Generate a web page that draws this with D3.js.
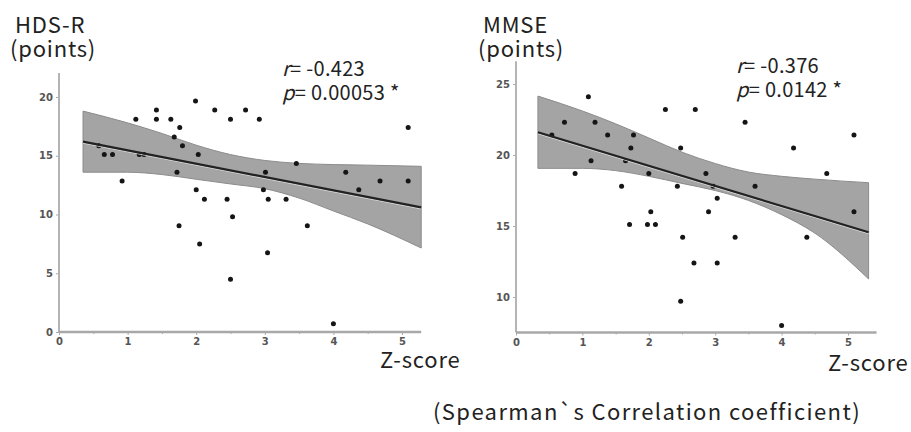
<!DOCTYPE html>
<html>
<head>
<meta charset="utf-8">
<script src="https://cdn.jsdelivr.net/npm/d3@7"></script>
<style>
  body { margin: 0; background: #fff; }
  text { font-family: "Noto Sans CJK JP", "Noto Sans", sans-serif; }
  .tick text { font-family: "DejaVu Sans", sans-serif; font-weight: bold; }
</style>
</head>
<body>
<div id="canvas"></div>
<script>
var width = 911,
	height = 432;

// HDS-R panel
var hdsX = [0.58, 0.66, 0.78, 0.92, 1.12, 1.17, 1.24, 1.42, 1.42, 1.63, 1.76, 1.68, 1.80, 1.72, 1.99, 2.03, 2.27, 2.50, 2.72, 2.92, 3.01, 3.46, 4.18, 4.37, 4.68, 5.09, 5.09, 2.00, 2.98, 2.12, 2.45, 3.05, 3.31, 1.75, 2.53, 3.62, 2.05, 3.04, 2.50, 4.00];
var hdsY = [15.85, 15.1, 15.1, 12.85, 18.1, 15.1, 15.1, 18.9, 18.1, 18.1, 17.4, 16.6, 15.85, 13.6, 19.66, 15.1, 18.9, 18.1, 18.9, 18.1, 13.6, 14.35, 13.6, 12.1, 12.85, 12.85, 17.4, 12.1, 12.1, 11.3, 11.3, 11.3, 11.3, 9.05, 9.8, 9.05, 7.5, 6.75, 4.5, 0.7];
var hdsLine = [[0.35, 16.2], [5.28, 10.6]];
var hdsBandX = [0.35, 1.0, 1.5, 2.0, 2.5, 3.0, 3.5, 4.0, 4.5, 5.28];
var hdsUpper = [18.8, 17.8, 16.9, 15.9, 15.1, 14.6, 14.35, 14.25, 14.2, 14.1];
var hdsLower = [13.6, 13.6, 13.4, 13.0, 12.6, 12.2, 11.4, 10.3, 9.2, 7.15];
var hdsYTicks = [0, 5, 10, 15, 20];

// MMSE panel
var mmseX = [1.09, 0.73, 1.19, 0.54, 1.38, 1.77, 2.25, 2.70, 3.45, 5.09, 1.73, 2.48, 4.18, 1.13, 1.65, 0.89, 2.00, 2.86, 4.68, 1.59, 2.43, 2.97, 3.60, 3.03, 2.03, 2.90, 5.09, 1.71, 1.98, 2.10, 2.51, 3.30, 4.38, 2.68, 3.03, 2.48, 4.00];
var mmseY = [24.1, 22.3, 22.3, 21.4, 21.4, 21.4, 23.2, 23.2, 22.3, 21.4, 20.5, 20.5, 20.5, 19.6, 19.6, 18.7, 18.7, 18.7, 18.7, 17.8, 17.8, 17.8, 17.8, 16.95, 16.0, 16.0, 16.0, 15.1, 15.1, 15.1, 14.2, 14.2, 14.2, 12.4, 12.4, 9.7, 8.0];
var mmseLine = [[0.33, 21.6], [5.31, 14.56]];
var mmseBandX = [0.33, 1.0, 1.5, 2.0, 2.5, 3.0, 3.5, 4.0, 4.5, 5.31];
var mmseUpper = [24.15, 23.1, 22.2, 21.2, 20.2, 19.4, 18.8, 18.5, 18.3, 18.05];
var mmseLower = [19.06, 19.06, 18.9, 18.5, 18.0, 17.5, 16.8, 15.8, 14.5, 11.27];
var mmseYTicks = [10, 15, 20, 25];

var xTicks = [0, 1, 2, 3, 4, 5];
var xMinor = [0.5, 1.5, 2.5, 3.5, 4.5];

var svg = d3.select("#canvas")
	.append("svg")
		.attr("width", width)
		.attr("height", height)
		.style("background-color", "#fff");

var panels = [
	{
		title: "HDS-R", xs: hdsX, ys: hdsY, line: hdsLine,
		bandX: hdsBandX, upper: hdsUpper, lower: hdsLower, yTicks: hdsYTicks,
		r: "-0.423", p: "0.00053",
		x: d3.scaleLinear().domain([0, 5]).range([59, 402]),
		y: d3.scaleLinear().domain([0, 20]).range([332, 97]),
		xEnd: 5.28, yMin: 0, yMax: 22.05,
		titleX: 15, statX: 282, statY: 76, zX: 380, zY: 368
	},
	{
		title: "MMSE", xs: mmseX, ys: mmseY, line: mmseLine,
		bandX: mmseBandX, upper: mmseUpper, lower: mmseLower, yTicks: mmseYTicks,
		r: "-0.376", p: "0.0142",
		x: d3.scaleLinear().domain([0, 5]).range([516, 848]),
		y: d3.scaleLinear().domain([10, 25]).range([297, 84]),
		xEnd: 5.43, yMin: 7.5, yMax: 26.6,
		titleX: 483, statX: 736, statY: 73, zX: 828, zY: 371
	}
];

panels.forEach(function(pn){
	var g = svg.append("g");
	var x = pn.x, y = pn.y;

	// confidence band
	var bandData = pn.bandX.map(function(d, i){
		return { x: d, hi: pn.upper[i], lo: pn.lower[i] };
	});
	var area = d3.area()
		.x(function(d){ return x(d.x); })
		.y0(function(d){ return y(d.lo); })
		.y1(function(d){ return y(d.hi); })
		.curve(d3.curveMonotoneX);
	g.append("path")
		.datum(bandData)
		.attr("d", area)
		.attr("fill", "#a4a4a4")
		.attr("stroke", "#8c8c8c")
		.attr("stroke-width", 1);

	// axes
	var yAxis = d3.axisLeft(y).tickValues(pn.yTicks).tickSize(3).tickFormat(d3.format("d"));
	var ya = g.append("g")
		.attr("transform", "translate(" + x(0) + ",0)")
		.call(yAxis);
	ya.select(".domain").remove();
	ya.append("line")
		.attr("x1", 0).attr("x2", 0)
		.attr("y1", y(pn.yMax)).attr("y2", y(pn.yMin))
		.attr("stroke", "#b4b4b4").attr("stroke-width", 2);

	var xAxis = d3.axisBottom(x).tickValues(xTicks).tickSize(3).tickFormat(d3.format("d"));
	var xa = g.append("g")
		.attr("transform", "translate(0," + y(pn.yMin) + ")")
		.call(xAxis);
	xa.select(".domain").remove();
	xa.append("line")
		.attr("x1", x(0)).attr("x2", x(pn.xEnd))
		.attr("y1", 0).attr("y2", 0)
		.attr("stroke", "#a8a8a8").attr("stroke-width", 2.5);
	g.append("g")
		.attr("transform", "translate(0," + y(pn.yMin) + ")")
		.call(d3.axisBottom(x).tickValues(xMinor).tickSize(2).tickFormat(""))
		.select(".domain").remove();

	g.selectAll(".tick line").attr("stroke", "#aaa");
	g.selectAll(".tick text")
		.attr("fill", "#555")
		.style("font-size", "10px");

	// points
	g.selectAll(".pt")
		.data(pn.xs)
		.enter()
		.append("circle")
		.attr("class", "pt")
		.attr("cx", function(d){ return x(d); })
		.attr("cy", function(d, i){ return y(pn.ys[i]); })
		.attr("r", 2.5)
		.attr("fill", "#151515");

	// regression line
	g.append("line")
		.attr("x1", x(pn.line[0][0])).attr("y1", y(pn.line[0][1]) + 1.5)
		.attr("x2", x(pn.line[1][0])).attr("y2", y(pn.line[1][1]) + 1.5)
		.attr("stroke", "#d8d8d8").attr("stroke-width", 1);
	g.append("line")
		.attr("x1", x(pn.line[0][0])).attr("y1", y(pn.line[0][1]))
		.attr("x2", x(pn.line[1][0])).attr("y2", y(pn.line[1][1]))
		.attr("stroke", "#222").attr("stroke-width", 2.2);

	// labels
	g.append("text")
		.attr("x", pn.titleX).attr("y", 33)
		.style("font-size", "22px").style("letter-spacing", "0.8px").attr("fill", "#222")
		.text(pn.title);
	g.append("text")
		.attr("x", pn.titleX - 5).attr("y", 57)
		.style("font-size", "22px").style("letter-spacing", "0.8px").attr("fill", "#222")
		.text("(points)");

	var st = g.append("text")
		.attr("x", pn.statX).attr("y", pn.statY)
		.style("font-size", "20px").style("letter-spacing", "0.3px").attr("fill", "#222");
	st.append("tspan").style("font-style", "italic").text("r");
	st.append("tspan").text("= " + pn.r);
	var sp = g.append("text")
		.attr("x", pn.statX).attr("y", pn.statY + 24)
		.style("font-size", "20px").style("letter-spacing", "0.3px").attr("fill", "#222");
	sp.append("tspan").style("font-style", "italic").text("p");
	sp.append("tspan").text("= " + pn.p + " *");

	g.append("text")
		.attr("x", pn.zX).attr("y", pn.zY)
		.style("font-size", "22px").style("letter-spacing", "0.8px").attr("fill", "#222")
		.text("Z-score");
});

svg.append("text")
	.attr("x", 433).attr("y", 420)
	.style("font-size", "22px").style("letter-spacing", "1.4px").attr("fill", "#222")
	.text("(Spearman`s Correlation coefficient)");
</script>
</body>
</html>
